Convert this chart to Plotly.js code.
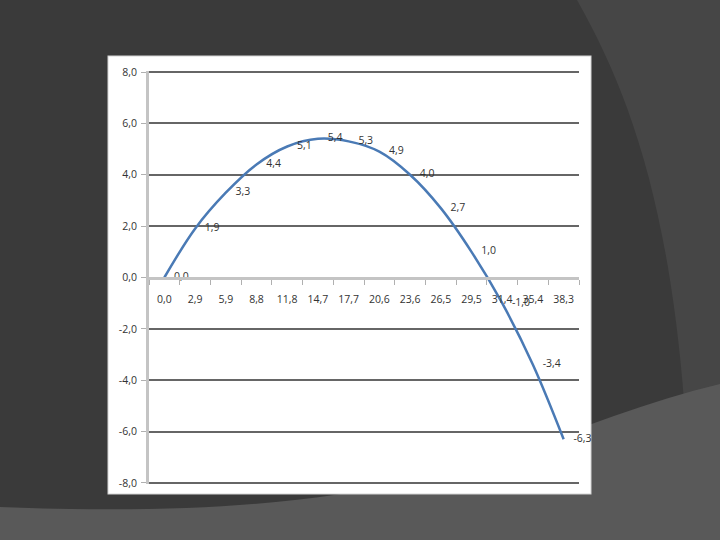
<!DOCTYPE html>
<html>
<head>
<meta charset="utf-8">
<script src="https://cdn.plot.ly/plotly-3.0.1.min.js"></script>
<style>
  html, body { margin: 0; padding: 0; width: 720px; height: 540px; overflow: hidden; background: #3a3a3a; }
  #bg { position: absolute; left: 0; top: 0; }
  #chart { position: absolute; left: 0; top: 0; width: 720px; height: 540px; }
</style>
</head>
<body>
<svg id="bg" width="720" height="540" xmlns="http://www.w3.org/2000/svg">
  <rect x="0" y="0" width="720" height="540" fill="#3a3a3a"/>
  <path d="M577,0 C628,90 668,200 684,400 L720,400 L720,0 Z" fill="#464646"/>
  <path d="M0,507 C180,514 300,505 420,480 C520,455 620,408 720,384 L720,540 L0,540 Z" fill="#595959"/>
  <rect x="108" y="56" width="483" height="438" fill="#ffffff" stroke="#d4d4d4" stroke-width="1"/>
</svg>
<div id="chart"></div>
<script>
// Category labels (x axis) and series values
const categories = ["0,0", "2,9", "5,9", "8,8", "11,8", "14,7", "17,7", "20,6", "23,6", "26,5", "29,5", "31,4", "35,4", "38,3"];
const values = [0.0, 1.9, 3.3, 4.4, 5.1, 5.4, 5.3, 4.9, 4.0, 2.7, 1.0, -1.0, -3.4, -6.3];
const yTicks = [-8, -6, -4, -2, 0, 2, 4, 6, 8];

const fmt = v => v.toFixed(1).replace('.', ',');

const font = { family: '"Open Sans", "Liberation Sans", sans-serif', size: 10.5, color: '#333333' };

const trace = {
  type: 'scatter',
  mode: 'lines+markers+text',
  x: categories,
  y: values,
  text: values.map(fmt),
  textposition: 'middle right',
  textfont: font,
  line: { color: '#4a7ab5', width: 2.5, shape: 'spline', smoothing: 1 },
  marker: { size: 14, color: 'rgba(0,0,0,0)' },
  cliponaxis: false,
  hoverinfo: 'skip'
};

const layout = {
  width: 720,
  height: 540,
  margin: { l: 149, r: 141, t: 71, b: 56, pad: 0 },
  paper_bgcolor: 'rgba(0,0,0,0)',
  plot_bgcolor: 'rgba(0,0,0,0)',
  showlegend: false,
  font: font,
  xaxis: {
    type: 'category',
    categoryorder: 'array',
    categoryarray: categories,
    range: [-0.5, categories.length - 0.5],
    anchor: 'free',
    position: 0.5,
    showgrid: false,
    zeroline: false,
    showline: true,
    linecolor: '#c4c4c4',
    linewidth: 3,
    ticks: 'outside',
    tickson: 'boundaries',
    ticklen: 5,
    tickwidth: 1,
    tickcolor: '#b0b0b0',
    tickangle: 0,
    ticklabelstandoff: 11,
    tickfont: font,
    fixedrange: true
  },
  yaxis: {
    range: [-8.04, 8.04],
    tickmode: 'array',
    tickvals: yTicks,
    ticktext: yTicks.map(fmt),
    showgrid: true,
    gridcolor: '#666666',
    gridwidth: 2,
    zeroline: false,
    showline: true,
    linecolor: '#c4c4c4',
    linewidth: 3,
    ticks: 'outside',
    ticklen: 5,
    tickwidth: 1,
    tickcolor: '#b0b0b0',
    ticklabelstandoff: 2,
    tickfont: font,
    fixedrange: true
  }
};

Plotly.newPlot('chart', [trace], layout, { staticPlot: true, displayModeBar: false });
</script>
</body>
</html>
